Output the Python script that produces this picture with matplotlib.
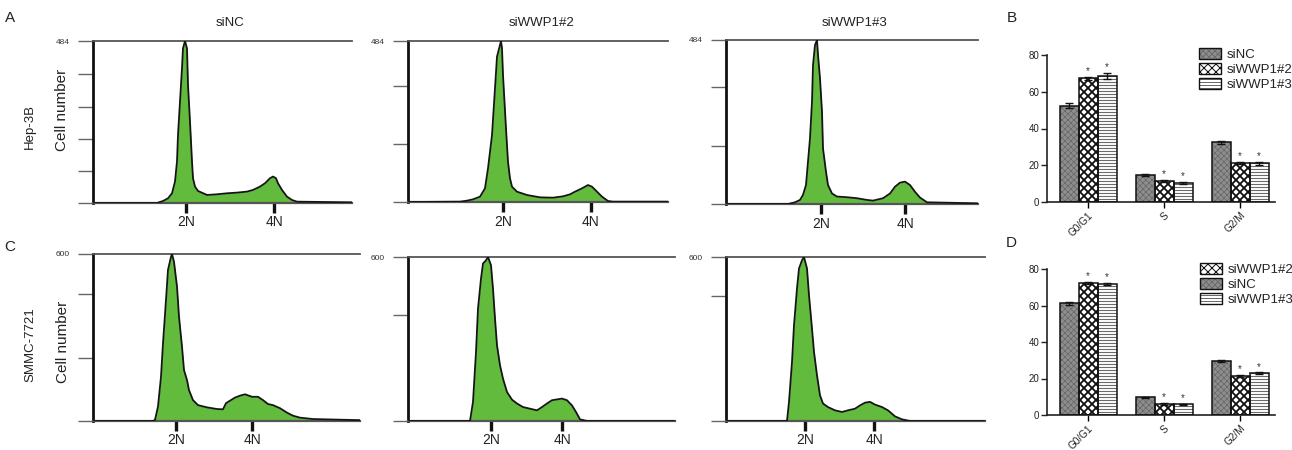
import numpy as np
import matplotlib as mpl
mpl.use('Agg')
import matplotlib.pyplot as plt
from matplotlib.patches import Patch
from matplotlib.legend_handler import HandlerTuple

plt.rcParams['font.family'] = ['Liberation Sans', 'DejaVu Sans']

# ---------------- data: flow cytometry histograms (channel, cell count) -------------
hep_sinc_ch = [0, 64, 70, 75, 79, 82, 84, 85, 87, 89, 90, 92, 94, 95, 97, 99, 100, 102, 105, 114, 124,
               134, 144, 154, 160, 167, 172, 177, 180, 183, 185, 189, 194, 199, 204, 259]
hep_sinc_ct = [0, 0, 6, 14, 29, 64, 124, 203, 303, 403, 462, 484, 462, 353, 243, 124, 74, 49, 36, 24, 26,
               29, 31, 34, 39, 49, 59, 74, 79, 74, 59, 39, 19, 9, 4, 2]

hep_si2_ch = [0, 52, 59, 65, 72, 77, 80, 84, 87, 89, 92, 93, 94, 95, 98, 100, 102, 104, 109, 119, 132,
              145, 155, 162, 167, 174, 180, 184, 189, 194, 200, 205, 260]
hep_si2_ct = [0, 1, 4, 8, 16, 41, 101, 201, 342, 437, 472, 484, 462, 382, 221, 121, 71, 46, 31, 21, 14,
              13, 17, 23, 31, 41, 51, 46, 31, 16, 3, 1, 1]

hep_si3_ch = [0, 62, 69, 74, 77, 80, 82, 84, 86, 87, 89, 91, 92, 94, 96, 97, 100, 102, 106, 111, 121,
              131, 141, 147, 157, 164, 169, 174, 179, 184, 189, 194, 201, 252]
hep_si3_ct = [0, 0, 5, 12, 27, 56, 125, 194, 302, 410, 469, 484, 440, 371, 272, 164, 95, 56, 31, 22, 20,
              17, 12, 10, 17, 31, 51, 63, 66, 56, 36, 19, 5, 2]

smmc_sinc_ch = [0, 60, 62, 65, 68, 70, 73, 75, 78, 79, 81, 84, 86, 89, 91, 94, 96, 100, 105, 114, 124,
                130, 133, 137, 142, 147, 152, 159, 165, 170, 175, 180, 187, 194, 200, 207, 220, 267]
smmc_sinc_ct = [0, 0, 4, 52, 159, 279, 435, 543, 590, 600, 572, 483, 375, 267, 183, 147, 111, 75, 57, 49, 43,
                42, 64, 73, 84, 91, 96, 87, 87, 75, 61, 57, 46, 30, 19, 12, 7, 3]

smmc_si2_ch = [0, 62, 65, 68, 70, 73, 75, 78, 80, 83, 85, 87, 89, 92, 95, 99, 104, 109, 115, 122, 129,
               134, 139, 144, 149, 154, 159, 164, 168, 172, 179, 267]
smmc_si2_ct = [0, 0, 70, 252, 411, 521, 576, 588, 600, 570, 484, 375, 277, 204, 155, 106, 78, 64, 51, 45, 39,
               51, 64, 76, 79, 82, 76, 57, 33, 6, 0, 0]

smmc_si3_ch = [0, 61, 63, 66, 68, 71, 73, 76, 78, 81, 83, 86, 88, 91, 94, 97, 102, 109, 116, 122, 129,
               134, 139, 144, 149, 156, 162, 169, 176, 184, 259]
smmc_si3_ct = [0, 0, 70, 216, 350, 485, 558, 588, 600, 558, 460, 338, 253, 167, 94, 64, 51, 39, 33, 39, 45,
               57, 67, 70, 60, 51, 39, 17, 6, 0, 0]

hist_titles = ['siNC', 'siWWP1#2', 'siWWP1#3']
ploidy_labels = ['2N', '4N']
hep_ploidy_pos = [[93, 181], [95, 183], [95, 179]]
smmc_ploidy_pos = [[83, 159], [83, 154], [79, 148]]
hep_ymax = 484
smmc_ymax = 600
hep_minor_ticks = [[96, 192, 288, 384], [175, 350], [170, 345]]
smmc_minor_ticks = [[227, 456], [387], [456]]

# ---------------- data: cell-cycle bar charts ----------------
phases = ['G0/G1', 'S', 'G2/M']
groups = ['siNC', 'siWWP1#2', 'siWWP1#3']
hep_pct = {'siNC': [52.5, 14.7, 32.5], 'siWWP1#2': [67.3, 11.4, 21.4], 'siWWP1#3': [68.6, 10.2, 21.0]}
hep_err = {'siNC': [1.2, 0.4, 0.9], 'siWWP1#2': [0.8, 0.5, 0.5], 'siWWP1#3': [1.5, 0.5, 0.6]}
smmc_pct = {'siNC': [61.2, 9.7, 29.6], 'siWWP1#2': [72.5, 6.0, 21.4], 'siWWP1#3': [71.8, 5.8, 22.8]}
smmc_err = {'siNC': [0.8, 0.4, 0.7], 'siWWP1#2': [0.6, 0.4, 0.5], 'siWWP1#3': [0.5, 0.3, 0.5]}
hep_legend_order = ['siNC', 'siWWP1#2', 'siWWP1#3']
smmc_legend_order = ['siWWP1#2', 'siNC', 'siWWP1#3']

# ---------------- layout ----------------
W, H = 1292, 450
DPI = 72
S = 100 / 72  # sizes below were tuned for 100 dpi; scale them to keep the same pixel size
fig = plt.figure(figsize=(W / DPI, H / DPI), dpi=DPI)


def rect(x0, y0, x1, y1):
    return [x0 / W, 1 - y1 / H, (x1 - x0) / W, (y1 - y0) / H]


def px(x, y):
    return x / W, 1 - y / H


GREEN = '#63bb3d'


def hist_panel(box, ch, ct, xmax, ymax, minor, ppos):
    ax = fig.add_axes(rect(*box))
    ax.fill_between(ch, ct, 0, color=GREEN, lw=0, zorder=2)
    ax.plot(ch, ct, color='#151515', lw=1.3 * S, zorder=3)
    ax.set_xlim(0, xmax)
    ax.set_ylim(0, ymax)
    ax.spines['right'].set_visible(False)
    ax.spines['left'].set_linewidth(2.0 * S)
    ax.spines['left'].set_color('#111111')
    ax.spines['top'].set_linewidth(1.3 * S)
    ax.spines['top'].set_color('#555555')
    ax.spines['bottom'].set_linewidth(1.6 * S)
    ax.spines['bottom'].set_color('#555555')
    yt = [0] + list(minor) + [ymax]
    ax.set_yticks(yt)
    ax.set_yticklabels([''] * (len(yt) - 1) + [str(ymax)], fontsize=6 * S, color='#333333')
    ax.tick_params(axis='y', length=11 * S, width=1.0 * S, color='#666666', pad=6 * S)
    ax.set_xticks(ppos)
    ax.set_xticklabels(ploidy_labels, fontsize=10 * S, color='#222222')
    ax.tick_params(axis='x', length=7 * S, width=2.4 * S, color='#111111', pad=2 * S)
    return ax


hep_boxes = [(93, 41, 352, 203), (408, 41, 668, 202), (726, 40, 978, 204)]
smmc_boxes = [(93, 254, 360, 421), (408, 257, 675, 421), (726, 257, 985, 421)]
hep_data = [(hep_sinc_ch, hep_sinc_ct), (hep_si2_ch, hep_si2_ct), (hep_si3_ch, hep_si3_ct)]
smmc_data = [(smmc_sinc_ch, smmc_sinc_ct), (smmc_si2_ch, smmc_si2_ct), (smmc_si3_ch, smmc_si3_ct)]

for i in range(3):
    b = hep_boxes[i]
    hist_panel(b, *hep_data[i], b[2] - b[0], hep_ymax, hep_minor_ticks[i], hep_ploidy_pos[i])
    b = smmc_boxes[i]
    hist_panel(b, *smmc_data[i], b[2] - b[0], smmc_ymax, smmc_minor_ticks[i], smmc_ploidy_pos[i])

title_x = [230, 542, 855]
for t, x in zip(hist_titles, title_x):
    fig.text(*px(x, 23), t, fontsize=9.5 * S, ha='center', va='center', color='#222222')

fig.text(*px(30, 127), 'Hep-3B', rotation=90, fontsize=9.5 * S, ha='center', va='center', color='#222222')
fig.text(*px(62, 110), 'Cell number', rotation=90, fontsize=11 * S, ha='center', va='center', color='#222222')
fig.text(*px(30, 345), 'SMMC-7721', rotation=90, fontsize=9.5 * S, ha='center', va='center', color='#222222')
fig.text(*px(63, 342), 'Cell number', rotation=90, fontsize=11 * S, ha='center', va='center', color='#222222')

for letter, (x, y) in zip('ABCD', [(10, 18), (1012, 18), (10, 247), (1011, 243)]):
    fig.text(*px(x, y), letter, fontsize=11 * S, ha='center', va='center', color='#222222')

# ---------------- bar charts ----------------
styles = {
    'siNC': dict(facecolor='#8e8e8e', hatch='xxxx', hatchcolor='#6c6c6c', hlw=0.8),
    'siWWP1#2': dict(facecolor='white', hatch='xxx', hatchcolor='#111111', hlw=1.8),
    'siWWP1#3': dict(facecolor='white', hatch='----', hatchcolor='#6a6a6a', hlw=1.1),
}


def bar_panel(box, pct, err, legend_order, legend_xy):
    ax = fig.add_axes(rect(*box))
    x = np.arange(len(phases))
    bw = 0.25
    for j, g in enumerate(groups):
        st = styles[g]
        pos = x + (j - 1) * bw
        with mpl.rc_context({'hatch.linewidth': st['hlw']}):
            ax.bar(pos, pct[g], width=bw, facecolor=st['facecolor'], edgecolor=st['hatchcolor'],
                   hatch=st['hatch'], lw=0, zorder=2)
        ax.bar(pos, pct[g], width=bw, fill=False, edgecolor='#111111', lw=1.1 * S, zorder=3)
        ax.errorbar(pos, pct[g], yerr=err[g], fmt='none', ecolor='#111111', elinewidth=1.0 * S,
                    capsize=3 * S, capthick=1.0 * S, zorder=4)
        if g != 'siNC':
            for p, v, e in zip(pos, pct[g], err[g]):
                ax.text(p, v + e + 3.2, '*', fontsize=7 * S, ha='center', va='center', color='#333333')
    ax.set_xlim(-0.54, 2.46)
    ax.set_ylim(0, 80)
    ax.set_yticks([0, 20, 40, 60, 80])
    ax.tick_params(axis='y', labelsize=7 * S, length=4 * S, width=1.0 * S, pad=1.5 * S, colors='#222222')
    ax.set_xticks(x)
    ax.set_xticklabels(phases, rotation=45, ha='right', rotation_mode='anchor', fontsize=7.2 * S,
                       color='#222222')
    ax.tick_params(axis='x', length=4 * S, width=1.0 * S, pad=2 * S)
    for s in ['top', 'right']:
        ax.spines[s].set_visible(False)
    for s in ['left', 'bottom']:
        ax.spines[s].set_linewidth(1.2 * S)
        ax.spines[s].set_color('#222222')
    handles = []
    for g in legend_order:
        st = styles[g]
        with mpl.rc_context({'hatch.linewidth': st['hlw']}):
            h = Patch(facecolor=st['facecolor'], edgecolor=st['hatchcolor'], hatch=st['hatch'], lw=0)
        outline = Patch(fill=False, edgecolor='#111111', lw=1.0 * S)
        handles.append((h, outline))
    leg = fig.legend(handles, legend_order, loc='upper left', bbox_to_anchor=px(*legend_xy),
                     frameon=False, fontsize=9.5 * S, handlelength=1.7, handleheight=0.95,
                     labelspacing=0.12, handletextpad=0.4, borderaxespad=0, borderpad=0,
                     handler_map={tuple: HandlerTuple(ndivide=1)})
    for t in leg.get_texts():
        t.set_color('#222222')
    return ax


bar_panel((1047, 55, 1275, 202), hep_pct, hep_err, hep_legend_order, (1199, 48))
bar_panel((1047, 269, 1275, 415), smmc_pct, smmc_err, smmc_legend_order, (1200, 263))

fig.savefig('out.png', dpi=DPI)
